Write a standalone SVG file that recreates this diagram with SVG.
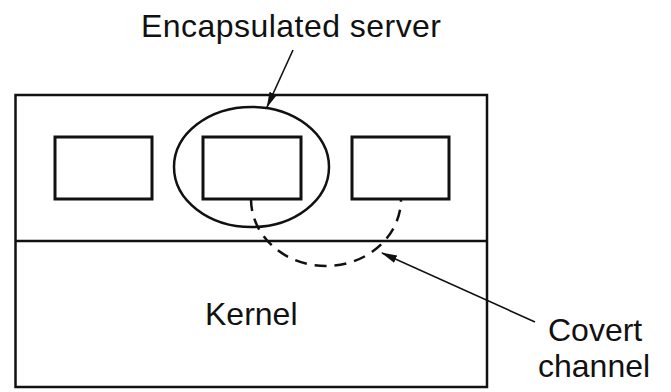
<svg xmlns="http://www.w3.org/2000/svg" width="671" height="392" viewBox="0 0 671 392">
<style>
.box{fill:none;stroke:#111;stroke-width:3}
.line{fill:none;stroke:#111;stroke-width:2.5}
.arrow{fill:none;stroke:#111;stroke-width:1.6}
.dash{fill:none;stroke:#111;stroke-width:2.5;stroke-dasharray:12 8}
.label{font-family:"Liberation Sans",Arial,sans-serif;font-size:32px;fill:#111}
</style>
<defs>
<marker id="ah" viewBox="0 0 16 10" refX="15" refY="5" markerWidth="16" markerHeight="10" markerUnits="userSpaceOnUse" orient="auto">
<path d="M0,1 L16,5 L0,9 Z" fill="#111"/>
</marker>
</defs>
<rect x="0" y="0" width="671" height="392" fill="#fff"/>
<g id="system">
<rect class="line" x="15.5" y="95" width="471.5" height="292"/>
<line class="line" x1="15.5" y1="241" x2="487" y2="241"/>
</g>
<g id="process-left"><rect class="box" x="55" y="137" width="97" height="62"/></g>
<g id="process-middle"><rect class="box" x="203" y="137" width="98" height="62"/></g>
<g id="process-right"><rect class="box" x="352" y="137" width="97" height="62"/></g>
<g id="encapsulation"><ellipse class="line" cx="251.5" cy="167" rx="77.5" ry="60"/></g>
<g id="kernel"><text class="label" x="205" y="325">Kernel</text></g>
<g id="label-encapsulated"><text class="label" x="141" y="37" textLength="300">Encapsulated server</text></g>
<g id="label-covert"><text class="label" x="548" y="341">Covert</text><text class="label" x="538" y="377">channel</text></g>
<g id="connectors">
<path class="dash" d="M251,199 A75,67 0 0 0 401,199"/>
<line class="arrow" x1="293" y1="50" x2="267" y2="107" marker-end="url(#ah)"/>
<line class="arrow" x1="535" y1="322" x2="382" y2="253" marker-end="url(#ah)"/>
</g>
</svg>
